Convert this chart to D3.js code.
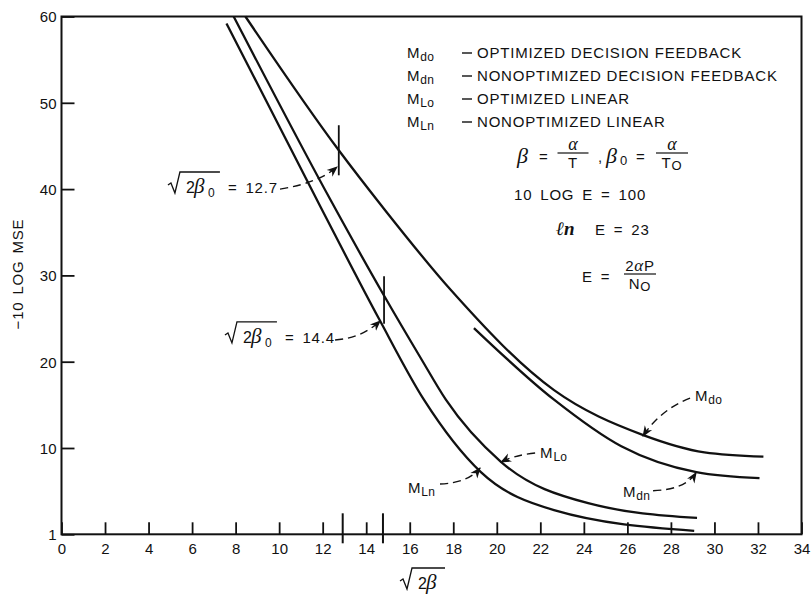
<!DOCTYPE html>
<html>
<head>
<meta charset='utf-8'>
<script src='https://d3js.org/d3.v7.min.js'></script>
<style>
  body { margin: 0; background: #fff; }
  svg text { font-family: "Liberation Sans", Arial, Helvetica, sans-serif; fill: #111; }
  .tick text { font-size: 15px; }
  .tick line { stroke: #111; stroke-width: 1.8; }
  .sans { font-size: 15px; letter-spacing: 0.8px; }
  .greek { font-family: "Liberation Serif", "DejaVu Serif", serif; font-style: italic; }
</style>
</head>
<body>
<div id='chart'></div>
<script>
// ticks
const xTickValues = [0, 2, 4, 6, 8, 10, 12, 14, 16, 18, 20, 22, 24, 26, 28, 30, 32, 34];
const yTickValues = [0, 10, 20, 30, 40, 50, 60];
const yTickLabels = ['1', '10', '20', '30', '40', '50', '60'];

// curves (x = sqrt(2 beta), y = -10 log MSE)
const mdoX = [8.45, 12.74, 14.76, 17.89, 22.63, 26.73, 29.54, 32.25];
const mdoY = [60, 44.5, 37.9, 28.3, 16.7, 11.5, 9.5, 9.0];
const mdnX = [18.95, 22.63, 25.72, 29.17, 32.07];
const mdnY = [23.9, 15.6, 10.2, 7.2, 6.5];
const mloX = [7.91, 12.37, 14.81, 16.51, 17.66, 20.19, 24.2, 29.2];
const mloY = [60, 38.7, 27.7, 20.4, 15.6, 8.4, 3.6, 1.9];
const mlnX = [7.58, 11.91, 14.58, 16.65, 19.27, 22.63, 29.07];
const mlnY = [59.2, 37.9, 25.0, 15.6, 7.2, 2.8, 0.4];

// sqrt(2 beta0) markers
const beta0Values = ['12.7', '14.4'];
const markX = [12.74, 14.82];
const markLo = [41.6, 24.4];
const markHi = [47.4, 29.9];
const axisMarkX = [12.92, 14.77];
const beta0LabelX = [4.89, 7.51];
const beta0LabelY = [39.55, 22.17];

// legend
const legendSubs = ['do', 'dn', 'Lo', 'Ln'];
const legendDesc = ['OPTIMIZED DECISION FEEDBACK', 'NONOPTIMIZED DECISION FEEDBACK',
                    'OPTIMIZED LINEAR', 'NONOPTIMIZED LINEAR'];

// curve labels
const curveLabelSubs = ['do', 'dn', 'Lo', 'Ln'];
const curveLabelX = [29.11, 25.8, 21.99, 15.92];
const curveLabelY = [15.5, 4.33, 8.84, 4.79];

// dashed arrows: [x0, y0, cx, cy, x1, y1]
const arrows = [
  [10.04, 40.0, 11.79, 40.7, 12.66, 42.56],
  [12.57, 22.51, 13.81, 22.75, 14.64, 24.72],
  [28.88, 15.79, 27.5, 14.4, 26.72, 11.39],
  [27.18, 5.05, 28.65, 5.17, 29.16, 7.13],
  [21.76, 9.42, 20.84, 9.19, 20.2, 8.38],
  [17.39, 5.83, 18.68, 5.95, 19.23, 7.68]
];

const W = 811, H = 596;
const svg = d3.select('#chart').append('svg').attr('width', W).attr('height', H);

const x = d3.scaleLinear().domain([0, 34]).range([61.5, 801.5]);
const y = d3.scaleLinear().domain([0, 60]).range([534.3, 16.5]);

const defs = svg.append('defs');
defs.append('marker').attr('id', 'arr')
  .attr('viewBox', '0 0 10 10').attr('refX', 9).attr('refY', 5)
  .attr('markerWidth', 11).attr('markerHeight', 11)
  .attr('markerUnits', 'userSpaceOnUse').attr('orient', 'auto')
  .append('path').attr('d', 'M0,1 L10,5 L0,9 L3,5 Z').attr('fill', '#111');

// axes
svg.append('g').attr('transform', `translate(0,${y(0)})`)
  .call(d3.axisBottom(x).tickValues(xTickValues).tickSizeInner(-12).tickSizeOuter(0).tickPadding(9))
  .call(g => g.select('.domain').remove());
svg.append('g').attr('transform', `translate(${x(0)},0)`)
  .call(d3.axisLeft(y).tickValues(yTickValues).tickFormat((d, i) => yTickLabels[i])
    .tickSizeInner(-13).tickSizeOuter(0).tickPadding(5))
  .call(g => g.select('.domain').remove())
  .selectAll('.tick text').attr('dy', '0.36em');

svg.append('rect')
  .attr('x', x(0)).attr('y', y(60))
  .attr('width', x(34) - x(0)).attr('height', y(0) - y(60))
  .attr('fill', 'none').attr('stroke', '#111').attr('stroke-width', 2);

// tall ticks on the x axis
svg.selectAll('.axismark').data(axisMarkX).join('line')
  .attr('x1', d => x(d)).attr('x2', d => x(d))
  .attr('y1', y(0) - 21).attr('y2', y(0) + 9)
  .attr('stroke', '#111').attr('stroke-width', 2);

// curves
const series = [[mdoX, mdoY], [mdnX, mdnY], [mloX, mloY], [mlnX, mlnY]];
const line = d3.line().x(d => x(d[0])).y(d => y(d[1])).curve(d3.curveMonotoneX);
svg.selectAll('.curve').data(series).join('path')
  .attr('d', s => line(s[0].map((v, i) => [v, s[1][i]])))
  .attr('fill', 'none').attr('stroke', '#111').attr('stroke-width', 2.3);

// markers on curves
svg.selectAll('.mark').data(markX).join('line')
  .attr('x1', d => x(d)).attr('x2', d => x(d))
  .attr('y1', (d, i) => y(markLo[i])).attr('y2', (d, i) => y(markHi[i]))
  .attr('stroke', '#111').attr('stroke-width', 1.8);

// arrows
svg.selectAll('.arrow').data(arrows).join('path')
  .attr('d', a => `M${x(a[0])},${y(a[1])} Q${x(a[2])},${y(a[3])} ${x(a[4])},${y(a[5])}`)
  .attr('fill', 'none').attr('stroke', '#111').attr('stroke-width', 1.4)
  .attr('stroke-dasharray', '8,5').attr('marker-end', 'url(#arr)');

// radical sign helper
function radical(x0, base, w, sub) {
  svg.append('path')
    .attr('d', `M${x0},${base - 8} L${x0 + 3},${base - 10} L${x0 + 7},${base} L${x0 + 12},${base - 21} H${x0 + 12 + w}`)
    .attr('fill', 'none').attr('stroke', '#111').attr('stroke-width', 1.3);
  svg.append('text').attr('x', x0 + 18).attr('y', base).style('font-size', '16px').text('2');
  svg.append('text').attr('class', 'greek').attr('x', x0 + 26).attr('y', base).style('font-size', '21px').text('β');
  if (sub) svg.append('text').attr('x', x0 + 40).attr('y', base + 4).style('font-size', '12px').text(sub);
}

beta0Values.forEach((v, i) => {
  const x0 = x(beta0LabelX[i]), b = y(beta0LabelY[i]);
  radical(x0, b, 40, '0');
  svg.append('text').attr('class', 'sans').attr('x', x0 + 60).attr('y', b)
    .style('word-spacing', '3px').text('= ' + v);
});

// axis titles
radical(400, 589, 33, null);
svg.append('text').attr('class', 'sans')
  .attr('transform', 'translate(23,274) rotate(-90)')
  .attr('text-anchor', 'middle').style('word-spacing', '2px').text('\u221210 LOG MSE');

// legend
const lg = svg.append('g');
legendSubs.forEach((s, i) => {
  const by = 58 + i * 23;
  const t = lg.append('text').attr('class', 'sans').attr('x', 407).attr('y', by);
  t.append('tspan').text('M');
  t.append('tspan').attr('dy', 3).style('font-size', '12px').style('letter-spacing', '0.3px').text(s);
  lg.append('line').attr('x1', 462).attr('x2', 472).attr('y1', by - 5).attr('y2', by - 5)
    .attr('stroke', '#111').attr('stroke-width', 1.4);
  lg.append('text').attr('class', 'sans').attr('x', 477).attr('y', by).text(legendDesc[i]);
});

// curve labels
curveLabelSubs.forEach((s, i) => {
  const t = svg.append('text').attr('class', 'sans')
    .attr('x', x(curveLabelX[i])).attr('y', y(curveLabelY[i]));
  t.append('tspan').text('M');
  t.append('tspan').attr('dy', 3).style('font-size', '12px').style('letter-spacing', '0.3px').text(s);
});

// formulas
const f = svg.append('g');
function frac(cx, lineY, top, bottom, bottomSub, w) {
  f.append('line').attr('x1', cx - w / 2).attr('x2', cx + w / 2)
    .attr('y1', lineY).attr('y2', lineY).attr('stroke', '#111').attr('stroke-width', 1.2);
  top(cx, lineY - 3);
  const t = f.append('text').attr('class', 'sans').attr('x', cx).attr('y', lineY + 15)
    .attr('text-anchor', 'middle');
  t.append('tspan').text(bottom);
  if (bottomSub) t.append('tspan').attr('dy', 2).style('font-size', '13px').text(bottomSub);
}
const alpha = (cx, by) => f.append('text').attr('class', 'greek').attr('x', cx).attr('y', by)
  .attr('text-anchor', 'middle').style('font-size', '18px').text('α');

f.append('text').attr('class', 'greek').attr('x', 517).attr('y', 163).style('font-size', '22px').text('β');
f.append('text').attr('class', 'sans').attr('x', 539).attr('y', 162).text('=');
frac(573, 153, alpha, 'T', null, 31);
f.append('text').attr('class', 'sans').attr('x', 598).attr('y', 162).text(',');
f.append('text').attr('class', 'greek').attr('x', 606).attr('y', 163).style('font-size', '22px').text('β');
f.append('text').attr('x', 620).attr('y', 165).style('font-size', '13px').text('0');
f.append('text').attr('class', 'sans').attr('x', 636).attr('y', 162).text('=');
frac(672, 153, alpha, 'T', 'O', 32);

f.append('text').attr('class', 'sans').attr('x', 514).attr('y', 200)
  .style('word-spacing', '3px').text('10 LOG E = 100');
f.append('text').attr('class', 'greek').attr('x', 556).attr('y', 235)
  .style('font-size', '19px').style('font-weight', 'bold').text('ℓn');
f.append('text').attr('class', 'sans').attr('x', 595).attr('y', 235)
  .style('word-spacing', '3px').text('E = 23');
f.append('text').attr('class', 'sans').attr('x', 582).attr('y', 282)
  .style('word-spacing', '3px').text('E =');
frac(640, 274, (cx, by) => {
  const t = f.append('text').attr('class', 'sans').attr('x', cx).attr('y', by).attr('text-anchor', 'middle');
  t.append('tspan').text('2');
  t.append('tspan').attr('class', 'greek').style('font-size', '17px').text('α');
  t.append('tspan').text('P');
}, 'N', 'O', 32);
</script>
</body>
</html>
